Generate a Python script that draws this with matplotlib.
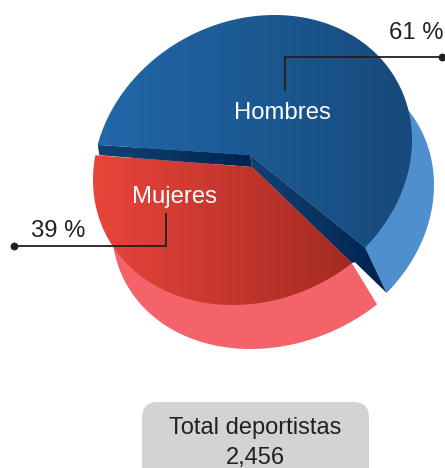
import numpy as np
import matplotlib
matplotlib.use("Agg")
import matplotlib.pyplot as plt
from matplotlib.patches import Polygon, FancyBboxPatch
from matplotlib.colors import LinearSegmentedColormap

# ---- data ----
categories = ["Hombres", "Mujeres"]
shares = [61, 39]
share_labels = ["61 %", "39 %"]
total_lines = ["Total deportistas", "2,456"]

plt.rcParams["font.family"] = ["Liberation Sans", "DejaVu Sans"]

W_PX, H_PX = 445, 468
fig = plt.figure(figsize=(W_PX / 100, H_PX / 100), dpi=100)
ax = fig.add_axes([0, 0, 1, 1])
ax.set_xlim(0, W_PX)
ax.set_ylim(H_PX, 0)
ax.axis("off")


def outline(apex, centre, rx, ry, tilt, a0, a1, n=160):
    """Wedge outline: rays from apex at polar angles a0..a1 (deg) to a tilted ellipse."""
    L = np.array([[rx, 0.0], [-tilt, np.sqrt(ry ** 2 - tilt ** 2)]])
    Li = np.linalg.inv(L)
    apex = np.asarray(apex, float)
    o = Li @ (apex - np.asarray(centre, float))
    pts = [apex]
    for a in np.radians(np.linspace(a0, a1, n)):
        d = Li @ np.array([np.cos(a), -np.sin(a)])
        A, B, C = d @ d, 2 * o @ d, o @ o - 1
        r = (-B + np.sqrt(B * B - 4 * A * C)) / (2 * A)
        pts.append(apex + r * np.array([np.cos(a), -np.sin(a)]))
    return np.array(pts)


def gradient_fill(pts, colours, z):
    poly = Polygon(pts, closed=True, fc="none", ec="none", transform=ax.transData)
    ax.add_patch(poly)
    x0, x1 = pts[:, 0].min(), pts[:, 0].max()
    y0, y1 = pts[:, 1].min(), pts[:, 1].max()
    cmap = LinearSegmentedColormap.from_list("g", colours)
    im = ax.imshow(np.linspace(0, 1, 256)[None, :], cmap=cmap, aspect="auto",
                   extent=(x0, x1, y1, y0), zorder=z, interpolation="bilinear")
    im.set_clip_path(poly)


# wedge sweeps come from the shares
PERSPECTIVE = 0.979
blue_start = 176.2
blue_end = blue_start - shares[0] / 100 * 360 * PERSPECTIVE
red_start = 175.7
red_end = red_start + shares[1] / 100 * 360

blue_apex, red_apex = (250, 155), (252, 167)
blue_ell = dict(centre=(252.5, 160), rx=159.5, ry=145, tilt=20)
red_ell = dict(centre=(255, 160), rx=162, ry=145, tilt=20)

blue_top = outline(blue_apex, a0=blue_start, a1=blue_end, **blue_ell)
red_top = outline(red_apex, a0=red_start, a1=red_end, **red_ell)

# extruded sides
blue_side = outline((271, 200), (274, 205), 160, 145, 20, blue_start, blue_end)
red_side = outline((280, 211), (278, 204), 166, 145, 24, red_start, red_end)
ax.add_patch(Polygon(np.vstack([red_side[1:], red_top[-1], red_apex]),
                     closed=True, fc="#F4636A", ec="none", zorder=1))
ax.add_patch(Polygon(np.vstack([blue_side[1:], blue_top[-1], blue_apex]),
                     closed=True, fc="#4E90CE", ec="none", zorder=2))

# dark cut faces
face_cols = ["#124272", "#00234F"]
gradient_fill(np.array([blue_top[1], blue_apex, red_apex, red_top[1] + (4, 0)]), face_cols, 3)
gradient_fill(np.array([blue_apex, blue_top[-1], blue_side[-1], red_top[-1] + (3, -1),
                        red_top[-1], red_apex]), face_cols, 3)

gradient_fill(red_top, ["#E9453A", "#A32A23"], 4)
gradient_fill(blue_top, ["#2168A9", "#17497B"], 5)

ax.set_xlim(0, W_PX)
ax.set_ylim(H_PX, 0)

# leader lines
ink = "#231F20"
ax.plot([442, 285, 285], [57, 57, 90], color=ink, lw=1.3, zorder=6, solid_joinstyle="miter")
ax.plot([14, 166, 166], [246, 246, 214], color=ink, lw=1.3, zorder=6, solid_joinstyle="miter")
ax.plot([442, 14], [57, 246], ls="none", marker="o", ms=4.6, color=ink, zorder=7)

# texts
ax.text(282, 113, categories[0], color="white", fontsize=17.2, ha="center", va="center", zorder=8)
ax.text(175, 197, categories[1], color="white", fontsize=17.2, ha="center", va="center", zorder=8)
ax.text(416, 33, share_labels[0], color=ink, fontsize=17.2, ha="center", va="center", zorder=8)
ax.text(58, 231, share_labels[1], color=ink, fontsize=17.2, ha="center", va="center", zorder=8)

# total box
ax.add_patch(FancyBboxPatch((142 + 16, 402 + 16), 227 - 32, 90 - 32,
                            boxstyle="round,pad=16,rounding_size=16",
                            fc="#D1D3D4", ec="none", zorder=1))
ax.text(255.5, 428, total_lines[0], color=ink, fontsize=17, ha="center", va="center", zorder=8)
ax.text(255.5, 458, total_lines[1], color=ink, fontsize=17, ha="center", va="center", zorder=8)

fig.savefig("out.png", dpi=100)
